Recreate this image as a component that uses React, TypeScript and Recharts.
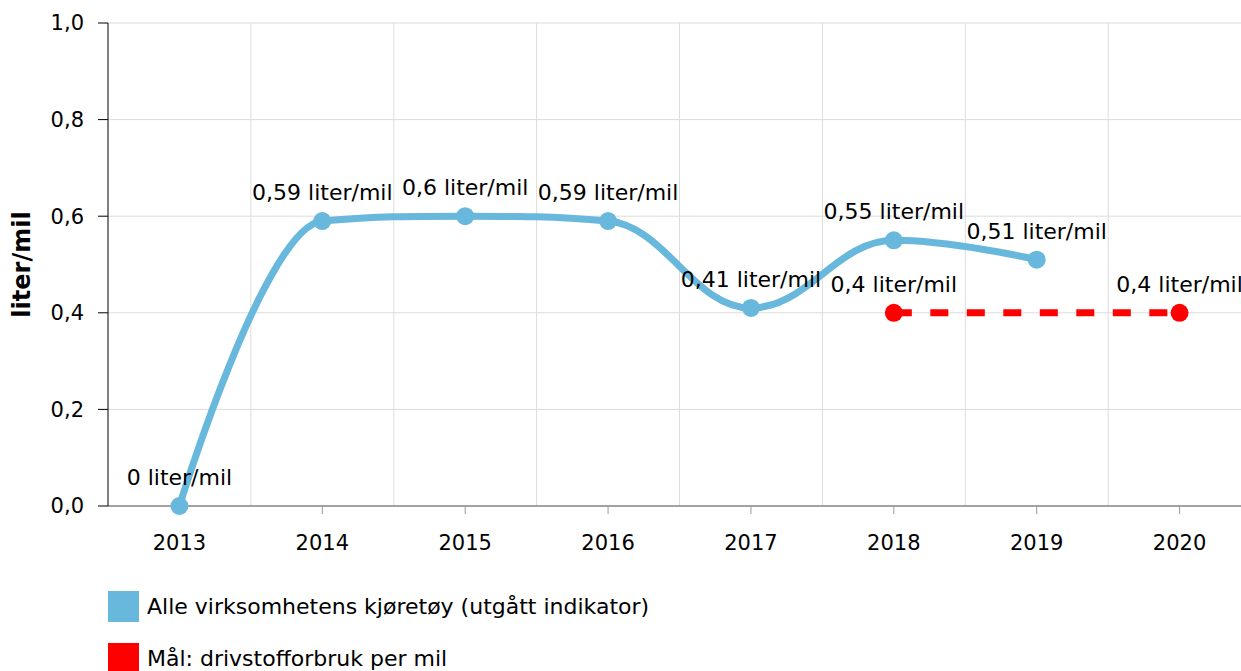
import React from 'react';
import { CartesianGrid, LabelList, Legend, Line, LineChart, XAxis, YAxis } from 'recharts';

const years = ['2013', '2014', '2015', '2016', '2017', '2018', '2019', '2020'];
const fleetValues = [0, 0.59, 0.6, 0.59, 0.41, 0.55, 0.51, null];
const goalValues = [null, null, null, null, null, 0.4, null, 0.4];
const yTicks = [0, 0.2, 0.4, 0.6, 0.8, 1.0];

const data = years.map((year, i) => ({ year, fleet: fleetValues[i], goal: goalValues[i] }));

const FONT = '"DejaVu Sans", Verdana, sans-serif';
const BLUE = '#68b7dc';
const RED = '#ff0000';

// highcharts-style spline, passed to Recharts as a d3 curve factory
const spline = (ctx: any) => {
  let pts: number[][] = [];
  return {
    areaStart() {},
    areaEnd() {},
    lineStart() {
      pts = [];
    },
    point(x: number, y: number) {
      pts.push([+x, +y]);
    },
    lineEnd() {
      const n = pts.length;
      if (!n) return;
      const s = 1.5;
      const d = s + 1;
      const left: number[][] = [];
      const right: number[][] = [];
      for (let i = 0; i < n; i++) {
        const [x, y] = pts[i];
        if (i === 0 || i === n - 1) {
          left[i] = [x, y];
          right[i] = [x, y];
          continue;
        }
        const [lx, ly] = pts[i - 1];
        const [nx, ny] = pts[i + 1];
        const lcx = (s * x + lx) / d;
        let lcy = (s * y + ly) / d;
        const rcx = (s * x + nx) / d;
        let rcy = (s * y + ny) / d;
        let corr = 0;
        if (rcx !== lcx) corr = ((rcy - lcy) * (rcx - x)) / (rcx - lcx) + y - rcy;
        lcy += corr;
        rcy += corr;
        if (lcy > ly && lcy > y) {
          lcy = Math.max(ly, y);
          rcy = 2 * y - lcy;
        } else if (lcy < ly && lcy < y) {
          lcy = Math.min(ly, y);
          rcy = 2 * y - lcy;
        }
        if (rcy > ny && rcy > y) {
          rcy = Math.max(ny, y);
          lcy = 2 * y - rcy;
        } else if (rcy < ny && rcy < y) {
          rcy = Math.min(ny, y);
          lcy = 2 * y - rcy;
        }
        left[i] = [lcx, lcy];
        right[i] = [rcx, rcy];
      }
      ctx.moveTo(pts[0][0], pts[0][1]);
      for (let i = 1; i < n; i++) {
        ctx.bezierCurveTo(right[i - 1][0], right[i - 1][1], left[i][0], left[i][1], pts[i][0], pts[i][1]);
      }
    },
  };
};

const fmtNum = (v: number) => String(v).replace('.', ',');

const renderValueLabel = (props: any) => {
  const { x, y, value } = props;
  if (value == null || y == null) return null;
  return (
    <text x={x} y={y - 21} textAnchor="middle" fontFamily={FONT} fontSize={22} fill="#000">
      {`${fmtNum(value)} liter/mil`}
    </text>
  );
};

const renderLegend = (props: any) => (
  <div style={{ fontFamily: FONT, fontSize: 22, color: '#000' }}>
    {(props.payload || []).map((p: any) => (
      <div key={p.value} style={{ display: 'flex', alignItems: 'center', height: 31, marginBottom: 21 }}>
        <span style={{ display: 'inline-block', width: 31, height: 31, background: p.color, marginRight: 8 }} />
        <span style={{ whiteSpace: 'nowrap' }}>{p.value}</span>
      </div>
    ))}
  </div>
);

const App = () => {
  return (
    <div style={{ position: 'fixed', top: 8, left: 8, width: 1233, height: 663, overflow: 'hidden', background: '#fff' }}>
      <LineChart width={1254} height={663} data={data} margin={{ top: 15, right: 11, bottom: 105, left: 0 }}>
        <CartesianGrid
          stroke="#dcdcdc"
          verticalCoordinatesGenerator={({ offset }: any) =>
            years.map((_, i) => offset.left + ((i + 1) * offset.width) / years.length)
          }
        />
        <XAxis
          dataKey="year"
          scale="band"
          height={60}
          tickSize={8}
          tickMargin={21}
          axisLine={{ stroke: '#888', strokeWidth: 1.5 }}
          tickLine={{ stroke: '#999' }}
          tick={{ fontFamily: FONT, fontSize: 21, fill: '#000' }}
        />
        <YAxis
          domain={[0, 1]}
          ticks={yTicks}
          width={100}
          tickSize={10}
          tickMargin={14}
          tickFormatter={(v: number) => v.toFixed(1).replace('.', ',')}
          axisLine={{ stroke: '#000' }}
          tickLine={{ stroke: '#000' }}
          tick={{ fontFamily: FONT, fontSize: 21, fill: '#000' }}
          label={{
            content: ({ viewBox }: any) => {
              const cx = 14;
              const cy = viewBox.y + viewBox.height / 2;
              return (
                <text
                  x={cx}
                  y={cy}
                  transform={`rotate(-90, ${cx}, ${cy})`}
                  textAnchor="middle"
                  dominantBaseline="central"
                  fontFamily={FONT}
                  fontSize={24}
                  fontWeight="bold"
                  fill="#000"
                >
                  liter/mil
                </text>
              );
            },
          }}
        />
        <Legend
          layout="horizontal"
          align="center"
          verticalAlign="middle"
          content={renderLegend}
          wrapperStyle={{ left: 100, top: 583, width: 'auto' }}
        />
        <Line
          dataKey="fleet"
          name="Alle virksomhetens kjøretøy (utgått indikator)"
          type={spline as any}
          stroke={BLUE}
          strokeWidth={7}
          dot={{ r: 9, fill: BLUE, stroke: 'none' }}
          activeDot={false}
          isAnimationActive={false}
        >
          <LabelList dataKey="fleet" content={renderValueLabel} />
        </Line>
        <Line
          dataKey="goal"
          name="Mål: drivstofforbruk per mil"
          type="linear"
          connectNulls
          stroke={RED}
          strokeWidth={7}
          strokeDasharray="18 18.5"
          dot={{ r: 9, fill: RED, stroke: 'none', strokeDasharray: '0' }}
          activeDot={false}
          isAnimationActive={false}
        >
          <LabelList dataKey="goal" content={renderValueLabel} />
        </Line>
      </LineChart>
    </div>
  );
};

export default App;
